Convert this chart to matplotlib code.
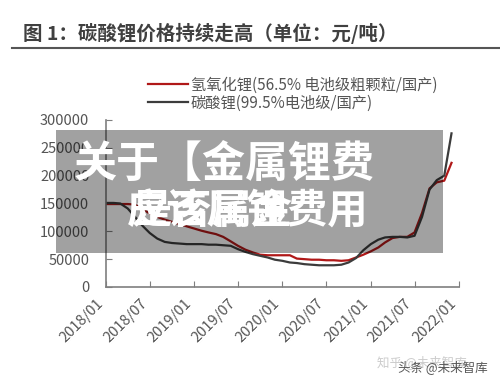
import numpy as np
import pandas as pd
import matplotlib
matplotlib.use("Agg")
import matplotlib.pyplot as plt
from matplotlib.patches import Rectangle

plt.rcParams['font.family'] = ['Noto Sans CJK SC', 'DejaVu Sans']

# data, monthly readings (元/吨)
months = pd.date_range("2018-01-01", "2021-12-01", freq="MS")
lioh = [149000, 149000, 149000, 149000, 148000, 140000, 132000, 126000, 121000, 117000,
        113000, 109000, 105000, 101000, 98000, 95000, 90000, 82000, 74000, 67000,
        62000, 58000, 57000, 57000, 57000, 57000, 51000, 50000, 49000, 49000,
        48000, 48000, 47000, 48000, 53000, 58000, 64000, 71000, 80000, 88000,
        90000, 90000, 98000, 133000, 177000, 188000, 191000, 223000]
li2co3 = [151000, 151000, 150000, 141000, 126000, 110000, 97000, 87000, 81000, 79000,
          78000, 77000, 77000, 77000, 76000, 76000, 75000, 74000, 68000, 63000,
          59000, 56000, 53000, 49000, 47000, 44000, 43000, 41000, 40000, 39000,
          39000, 39000, 40000, 44000, 52000, 66000, 77000, 85000, 89000, 90000,
          90000, 89000, 92000, 126000, 175000, 192000, 200000, 276000]

tick_dates = pd.date_range("2018-01-01", "2022-01-01", freq="6MS")
tick_labels = [d.strftime("%Y/%m") for d in tick_dates]
yticks = [0, 50000, 100000, 150000, 200000, 250000, 300000]

title = "图 1：碳酸锂价格持续走高（单位：元/吨）"
name_lioh = "氢氧化锂(56.5% 电池级粗颗粒/国产)"
name_li2co3 = "碳酸锂(99.5%电池级/国产)"

fig = plt.figure(figsize=(5, 3.83), dpi=100)
ax = fig.add_axes([0.212, 0.2507, 0.706, 0.436])

ax.plot(months, lioh, color="#b01818", lw=1.6, label=name_lioh)
ax.plot(months, li2co3, color="#3c3c3c", lw=1.6, label=name_li2co3)

ax.set_xlim(tick_dates[0], tick_dates[-1])
ax.set_ylim(0, 300000)
ax.set_yticks(yticks)
ax.set_yticklabels([str(v) for v in yticks])
ax.set_xticks(tick_dates)
ax.set_xticklabels(tick_labels, rotation=45, ha="right")

for s in ["top", "right"]:
    ax.spines[s].set_visible(False)
for s in ["left", "bottom"]:
    ax.spines[s].set_color("#7f7f7f")
    ax.spines[s].set_linewidth(1.2)
ax.tick_params(axis="both", direction="in", length=4, color="#7f7f7f",
               labelcolor="#555555", labelsize=10.5)
ax.tick_params(axis="y", pad=12)
ax.tick_params(axis="x", pad=7)

fig.legend(loc="upper left", bbox_to_anchor=(0.296, 0.8), frameon=False,
           fontsize=11, handlelength=2.6, handletextpad=0.2, labelspacing=0.05,
           labelcolor="#555555", borderaxespad=0, borderpad=0)

# header
fig.text(0.046, 0.913, title, fontsize=14, fontweight="bold", color="#404040",
         va="center", ha="left")
fig.add_artist(plt.Line2D([0.024, 1.0], [0.875, 0.875], color="#555555", lw=1.5))

# watermark
fig.text(0.754, 0.055, "知乎 @未来智库", fontsize=9, color="#cccccc", va="center")
fig.text(0.796, 0.042, "头条 @未来智库", fontsize=9, color="#555555", va="center")

# overlay banner
fig.add_artist(Rectangle((0.112, 0.34), 0.774, 0.32, transform=fig.transFigure,
                         facecolor="black", alpha=0.37, edgecolor="none"))
fig.text(0.148, 0.569, "关于【金属锂费", fontsize=31, fontweight="bold",
         color="white", va="center", ha="left")
fig.text(0.736, 0.447, "应该属锂费用", fontsize=29, fontweight="bold",
         color="white", va="center", ha="right")
fig.text(0.585, 0.447, "是否属金", fontsize=29, fontweight="bold",
         color="white", va="center", ha="right")

fig.savefig("out.png", dpi=100)
